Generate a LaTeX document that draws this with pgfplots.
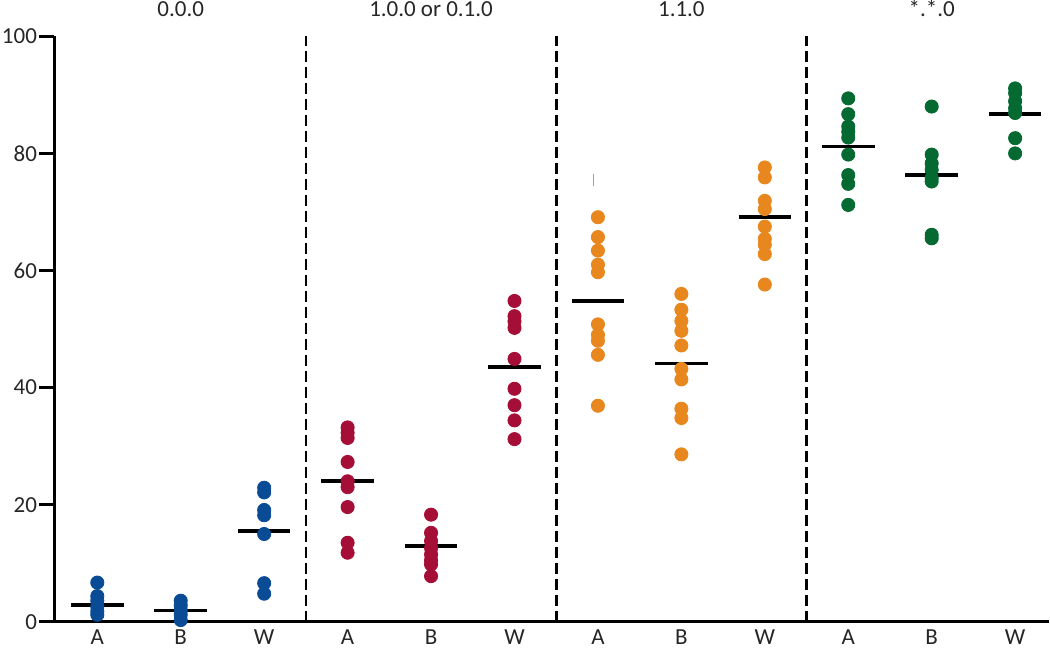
\documentclass[border=0pt]{standalone}
\usepackage{fontspec}
\setmainfont{Carlito}
\usepackage{pgfplots}
\pgfplotsset{compat=1.18}

\definecolor{cblue}{RGB}{10,75,150}
\definecolor{cred}{RGB}{165,15,55}
\definecolor{corange}{RGB}{232,135,30}
\definecolor{cgreen}{RGB}{5,105,50}
\definecolor{ctick}{RGB}{140,160,200}

% x: 0-2 = 0.0.0, 3-5 = 1.0.0 or 0.1.0, 6-8 = 1.1.0, 9-11 = *.*.0
\begin{document}
\begin{tikzpicture}
\begin{axis}[
  scale only axis, width=497.5pt, height=293pt,
  xmin=-0.515, xmax=11.4, ymin=0, ymax=100,
  axis x line*=bottom, axis y line*=left,
  axis line style={line width=1.5pt, black},
  xtick={0,...,11},
  xticklabels={A,B,W,A,B,W,A,B,W,A,B,W},
  x tick style={draw=none},
  ytick={0,20,...,100},
  y tick style={line width=1.5pt, black},
  tick align=outside, major tick length=7.5pt,
  tick label style={font=\fontsize{11.5}{14}\selectfont, text=black!85},
  yticklabel style={inner xsep=1pt},
  xticklabel style={yshift=5.5pt, inner ysep=2pt},
  /pgf/number format/assume math mode=true,
  clip=false,
  unbounded coords=jump,
]
% group separators
\addplot[no marks, black, line width=1.3pt, dash pattern=on 5.5pt off 2.5pt]
  coordinates {(2.5,0) (2.5,100)};
\addplot[no marks, black, line width=1.3pt, dash pattern=on 5.5pt off 2.5pt]
  coordinates {(5.5,0) (5.5,100)};
\addplot[no marks, black, line width=1.3pt, dash pattern=on 5.5pt off 2.5pt]
  coordinates {(8.5,0) (8.5,100)};

% 0.0.0
\addplot[only marks, mark=*, mark size=3.3pt, cblue] table {
x y
0 6.7
0 4.4
0 3.6
0 2.6
0 1.8
0 1.2
1 3.6
1 2.8
1 2.0
1 1.2
1 0.3
2 22.9
2 22.1
2 19.1
2 18.2
2 15.0
2 6.6
2 4.8
};
% 1.0.0 or 0.1.0
\addplot[only marks, mark=*, mark size=3.3pt, cred] table {
x y
3 33.2
3 32.3
3 31.4
3 27.3
3 24.0
3 23.0
3 19.6
3 13.5
3 11.8
4 18.3
4 15.2
4 13.8
4 12.6
4 11.5
4 10.5
4 9.8
4 7.8
5 54.8
5 52.2
5 51.3
5 50.2
5 44.9
5 39.8
5 37.0
5 34.4
5 31.2
};
% 1.1.0
\addplot[only marks, mark=*, mark size=3.3pt, corange] table {
x y
6 69.1
6 65.7
6 63.4
6 61.0
6 59.7
6 50.8
6 49.0
6 48.0
6 45.6
6 36.9
7 56.0
7 53.3
7 51.4
7 49.7
7 47.2
7 43.2
7 41.4
7 36.4
7 34.8
7 28.6
8 77.6
8 75.9
8 71.9
8 70.5
8 67.5
8 65.4
8 64.4
8 62.8
8 57.6
};
% *.*.0
\addplot[only marks, mark=*, mark size=3.3pt, cgreen] table {
x y
9 89.4
9 86.7
9 84.6
9 83.7
9 82.7
9 79.8
9 76.3
9 74.8
9 71.2
10 88.0
10 79.8
10 78.3
10 77.2
10 75.8
10 75.2
10 66.1
10 65.5
11 91.1
11 90.3
11 88.9
11 87.7
11 86.9
11 82.6
11 80.0
};

% group means
\addplot[no marks, black, line width=1.8pt] table {
x y
-0.315 2.85
0.315 2.85
nan nan
0.685 1.93
1.315 1.93
nan nan
1.685 15.5
2.315 15.5
nan nan
2.685 24.0
3.315 24.0
nan nan
3.685 12.9
4.315 12.9
nan nan
4.685 43.5
5.315 43.5
nan nan
5.685 54.8
6.315 54.8
nan nan
6.685 44.1
7.315 44.1
nan nan
7.685 69.1
8.315 69.1
nan nan
8.685 81.2
9.315 81.2
nan nan
9.685 76.3
10.315 76.3
nan nan
10.685 86.7
11.315 86.7
};

% stray mark in the source image
\addplot[no marks, ctick, line width=0.7pt]
  coordinates {(5.95,74.5) (5.95,76.4)};

% group titles
\foreach \gx/\gt in {1/0.0.0, 4/1.0.0 or 0.1.0, 7/1.1.0, 10/*.*.0}{
  \edef\tmp{\noexpand\node[anchor=base, inner sep=0pt, text=black!85,
    font=\noexpand\fontsize{11.5}{14}\noexpand\selectfont]
    at (axis cs:\gx,100) [yshift=10pt] {\gt};}
  \tmp
}
\end{axis}
\end{tikzpicture}
\end{document}
